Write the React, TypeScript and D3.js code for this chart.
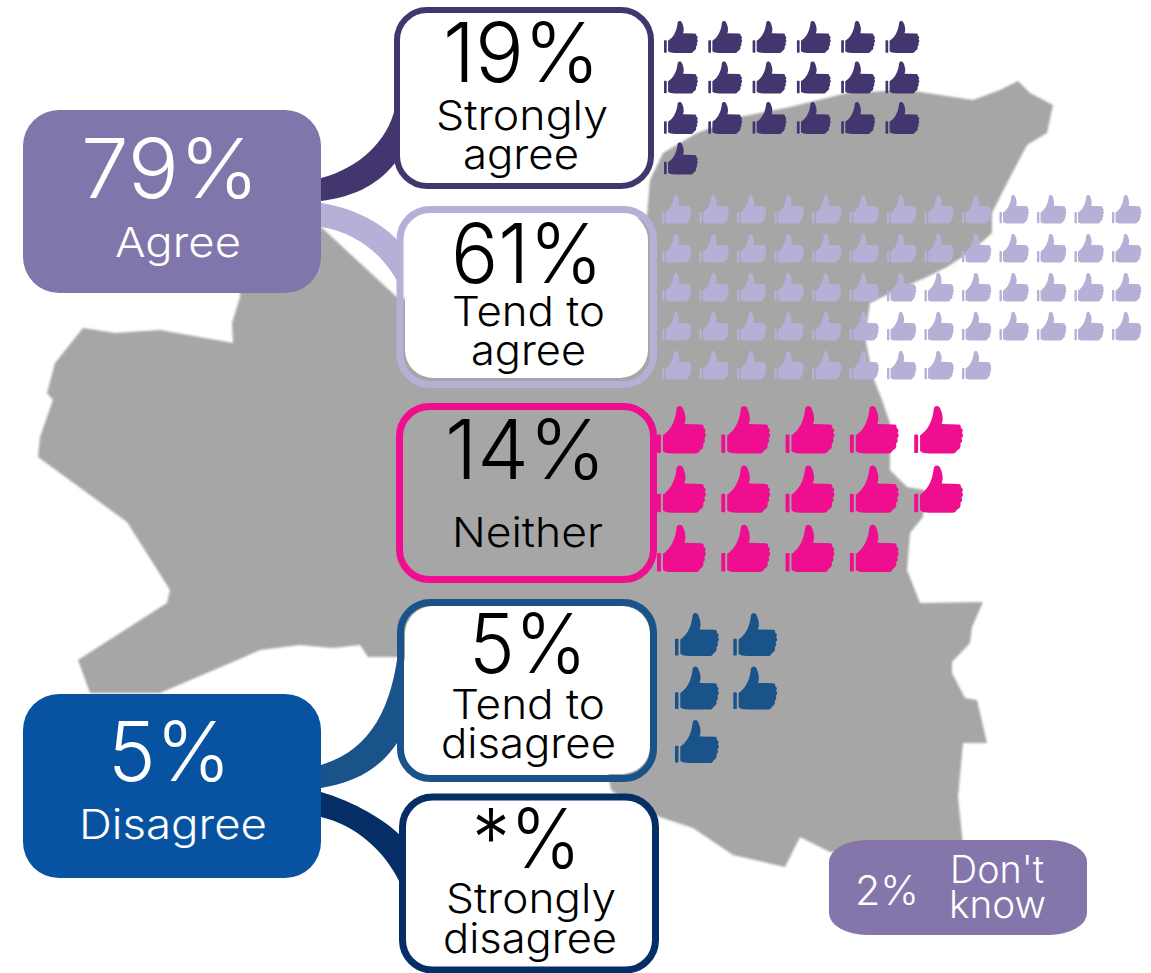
import React from "react";
import * as d3 from "d3";

// ---- Survey values (one thumb per respondent percentage point)
const responseNames = ["Strongly agree", "Tend to agree", "Neither", "Tend to disagree", "Strongly disagree"];
const responseValues = [19, 61, 14, 5, 0];
const responseColours = ["#43366F", "#B6AFD6", "#EE0E8F", "#1A538A", "#052E66"];
const thumbsPerRow = [6, 13, 5, 2, 1];

// Thumb grid layout for each response: [left, top, stepX, stepY, width, height]
const thumbLayouts = [
  [664, 21, 44.3, 40.5, 34, 32],
  [662, 195, 37.5, 39, 29.5, 28.5],
  [657, 406, 64.3, 59.3, 49, 47.5],
  [675, 613, 58.3, 53.5, 44, 43],
  [0, 0, 0, 0, 0, 0],
];

// Outline of the area map
const mapOutline: [number, number][] = [
  [1018, 81], [1030, 93], [1053, 105], [1047, 133], [1027, 145], [1007, 183], [992, 213], [992, 233],
  [973, 250], [947, 267], [927, 277], [897, 290], [870, 303], [865, 337], [873, 377], [882, 400],
  [890, 423], [890, 470], [907, 487], [925, 490], [923, 517], [910, 533], [907, 570], [920, 603],
  [983, 602], [972, 627], [970, 643], [952, 662], [952, 673], [965, 698], [977, 700], [987, 743],
  [963, 743], [958, 797], [963, 845], [830, 852], [800, 837], [785, 867], [733, 855], [693, 828],
  [660, 817], [625, 800], [611, 790], [608, 773], [500, 700], [397, 657], [368, 657], [360, 645],
  [333, 648], [300, 645], [260, 650], [242, 658], [160, 693], [90, 693], [78, 660], [167, 603],
  [170, 590], [127, 522], [38, 457], [40, 437], [53, 400], [47, 393], [55, 363], [83, 328],
  [115, 333], [160, 330], [233, 343], [232, 323], [240, 297], [240, 285], [321, 227], [400, 300],
  [647, 215], [650, 180], [663, 153], [697, 133], [740, 117], [790, 107], [847, 93], [907, 90],
  [973, 100], [1000, 90],
];

// Boxes: [x0, y0, x1, y1] of the stroke centre line
const boxes: { c: string; b: number[]; w?: number[]; sw: number }[] = [
  { c: responseColours[0], b: [397, 10, 651, 186], w: [397, 10, 651, 186], sw: 6 },
  { c: responseColours[1], b: [400, 209.5, 653.5, 384.5], w: [405, 212, 648, 378], sw: 7 },
  { c: responseColours[2], b: [399.5, 406.5, 653.5, 579.5], sw: 7 },
  { c: responseColours[3], b: [400.5, 602.5, 653.5, 778.5], w: [405, 606, 650, 774], sw: 7 },
  { c: responseColours[4], b: [402.5, 797, 655.5, 970], w: [402.5, 797, 655.5, 970], sw: 7 },
];

const connectors = [
  { c: responseColours[0], d: "M321,178C360,168 388,140 395,108L395,163C375,188 350,197 321,201Z" },
  { c: responseColours[1], d: "M321,203C355,208 385,225 399,242L399,285C385,255 355,232 321,227Z" },
  { c: responseColours[3], d: "M321,765C370,750 392,710 399,645L399,740C380,770 355,782 321,788Z" },
  { c: responseColours[4], d: "M321,792C355,802 385,820 401,836L401,885C385,850 355,825 321,817Z" },
];

// Text: [string, left, right, baseline, font size, colour]
const bigSize = 82;
const labelSize = 41;
const labels: [string, number, number, number, number, string][] = [
  ["79%", 81, 259, 198, bigSize, "#fff"],
  ["Agree", 115, 241, 257, labelSize, "#fff"],
  ["19%", 443, 600, 82, bigSize, "#000"],
  ["Strongly", 436, 608, 130, labelSize, "#000"],
  ["agree", 463, 579, 169, labelSize, "#000"],
  ["61%", 451, 603, 283, bigSize, "#000"],
  ["Tend to", 452, 605, 326, labelSize, "#000"],
  ["agree", 471, 586, 365, labelSize, "#000"],
  ["14%", 445, 606, 479, bigSize, "#000"],
  ["Neither", 452, 603, 547, labelSize, "#000"],
  ["5%", 108, 231, 781, bigSize, "#fff"],
  ["Disagree", 79, 267, 839, labelSize, "#fff"],
  ["5%", 469, 587, 673, bigSize, "#000"],
  ["Tend to", 451, 605, 719, labelSize, "#000"],
  ["disagree", 441, 616, 758, labelSize, "#000"],
  ["*%", 472, 581, 868, bigSize, "#000"],
  ["Strongly", 446, 616, 913, labelSize, "#000"],
  ["disagree", 443, 617, 953, labelSize, "#000"],
  ["2%", 855, 919, 905, 41, "#fff"],
  ["Don't", 950, 1044, 883, 38, "#fff"],
  ["know", 949, 1046, 918, 38, "#fff"],
];

const thumbPath =
  "M0,60Q0,58 2,58L6,58Q8,58 8,60L8,94Q8,96 6,96L2,96Q0,96 0,94Z" +
  "M12,60C25,51 37,35 40,6C41,-1 50,-2 53,5C58,16 60,27 56,37L90,38C95,38 96,41 95,45" +
  "C99,46 101,51 97,55C101,57 100,64 96,66C99,69 98,75 94,77C96,81 94,88 88,90C86,95 82,97 78,97" +
  "L32,97C22,97 16,96 12,92Z";

const mapLine = d3.line().curve(d3.curveLinearClosed);

function Thumbs({ index }: { index: number }) {
  const [left, top, stepX, stepY, w, h] = thumbLayouts[index];
  const perRow = thumbsPerRow[index];
  const count = responseValues[index];
  const x = d3.scaleLinear().domain([0, 1]).range([left, left + stepX]);
  const y = d3.scaleLinear().domain([0, 1]).range([top, top + stepY]);
  return (
    <g fill={responseColours[index]}>
      {d3.range(count).map((i) => (
        <path
          key={i}
          d={thumbPath}
          transform={`translate(${x(i % perRow)},${y(Math.floor(i / perRow))}) scale(${w / 100},${h / 97})`}
        />
      ))}
    </g>
  );
}

export default function App() {
  return (
    <svg
      width={1151}
      height={973}
      viewBox="0 0 1151 973"
      style={{ position: "absolute", left: 0, top: 0, fontFamily: "Inter, 'Open Sans', sans-serif" }}
    >
      <defs>
        <filter id="soft" x="-2%" y="-2%" width="104%" height="104%">
          <feGaussianBlur stdDeviation="1" />
        </filter>
      </defs>
      <rect width={1151} height={973} fill="#fff" />
      <path d={mapLine(mapOutline) ?? ""} fill="#A6A6A6" filter="url(#soft)" />
      {connectors.map((c, i) => (
        <path key={i} d={c.d} fill={c.c} />
      ))}
      <rect x={23} y={110} width={298} height={183} rx={36} fill="#8176AB" />
      <rect x={23} y={694} width={298} height={184} rx={36} fill="#0852A2" />
      <rect x={829} y={840} width={258} height={95} rx={38} ry={22} fill="#8476AA" />
      {boxes.map((b, i) => (
        <g key={i}>
          {b.w && <rect x={b.w[0]} y={b.w[1]} width={b.w[2] - b.w[0]} height={b.w[3] - b.w[1]} rx={28} fill="#fff" />}
          <rect
            x={b.b[0]}
            y={b.b[1]}
            width={b.b[2] - b.b[0]}
            height={b.b[3] - b.b[1]}
            rx={30}
            fill="none"
            stroke={b.c}
            strokeWidth={b.sw}
          />
        </g>
      ))}
      {responseNames.map((n, i) => (
        <Thumbs key={n} index={i} />
      ))}
      {labels.map(([t, l, r, base, size, col], i) => (
        <text
          key={i}
          x={l}
          y={base}
          fontSize={size}
          fill={col}
          fontWeight={size === bigSize ? 300 : 350}
          textLength={r - l}
          lengthAdjust="spacingAndGlyphs"
        >
          {t}
        </text>
      ))}
    </svg>
  );
}
